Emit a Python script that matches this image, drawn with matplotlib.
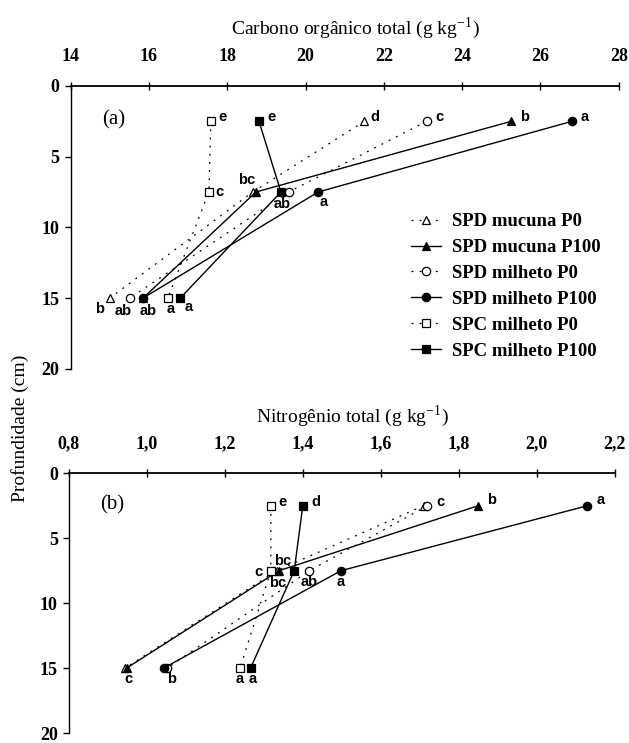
import matplotlib
matplotlib.use('Agg')
import matplotlib.pyplot as plt
from matplotlib.lines import Line2D

plt.rcParams['font.family'] = 'Liberation Serif'
plt.rcParams['mathtext.fontset'] = 'stix'

depth = [2.5, 7.5, 15]
depth_ticks = [0, 5, 10, 15, 20]

series_names = ['SPD mucuna P0', 'SPD mucuna P100', 'SPD milheto P0',
                'SPD milheto P100', 'SPC milheto P0', 'SPC milheto P100']

# (a) carbono organico total, g/kg, at each depth
cot_mucuna_p0 = [21.50, 18.65, 15.00]
cot_mucuna_p100 = [25.25, 18.73, 15.85]
cot_milheto_p0 = [23.09, 19.57, 15.51]
cot_milheto_p100 = [26.80, 20.32, 15.85]
cot_spc_p0 = [17.58, 17.53, 16.48]
cot_spc_p100 = [18.81, 19.37, 16.80]

# (b) nitrogenio total, g/kg
nt_mucuna_p0 = [1.71, 1.333, 0.944]
nt_mucuna_p100 = [1.85, 1.339, 0.948]
nt_milheto_p0 = [1.72, 1.417, 1.052]
nt_milheto_p100 = [2.13, 1.498, 1.043]
nt_spc_p0 = [1.318, 1.318, 1.239]
nt_spc_p100 = [1.400, 1.378, 1.266]

# letters of the mean comparison test ('' = not printed for that point)
cot_letters = [['d', 'bc', 'b'], ['b', '', ''], ['c', 'ab', 'ab'],
               ['a', 'a', 'ab'], ['e', 'c', 'a'], ['e', '', 'a']]
nt_letters = [['', 'bc', 'c'], ['b', 'bc', ''], ['c', 'ab', 'b'],
              ['a', 'a', ''], ['e', 'c', 'a'], ['d', '', 'a']]

cot_x_ticks = [14, 16, 18, 20, 22, 24, 26, 28]
nt_x_ticks = [0.8, 1.0, 1.2, 1.4, 1.6, 1.8, 2.0, 2.2]
nt_x_ticklabels = ['0,8', '1,0', '1,2', '1,4', '1,6', '1,8', '2,0', '2,2']

# styles: marker, filled, solid line
styles = [('^', False, False), ('^', True, True), ('o', False, False),
          ('o', True, True), ('s', False, False), ('s', True, True)]

# letter offsets in pixels (dx, dy down positive) per series / depth
cot_offsets = [[(11, -4), (-6, -12), (-10, 11)],
               [(13, -4), (0, 0), (0, 0)],
               [(13, -4), (-7, 12), (-7, 13)],
               [(13, -4), (6, 10), (5, 13)],
               [(12, -4), (11, 0), (3, 11)],
               [(12, -4), (0, 0), (8, 9)]]
nt_offsets = [[(0, 0), (1, 12), (3, 11)],
              [(13, -6), (4, -10), (0, 0)],
              [(13, -4), (0, 11), (4, 11)],
              [(13, -6), (0, 11), (0, 0)],
              [(12, -4), (-12, 1), (0, 11)],
              [(13, -4), (0, 0), (2, 11)]]

W, H = 629, 743
fig = plt.figure(figsize=(W / 100, H / 100), dpi=100)


def px_axes(left, top, right, bottom):
    return fig.add_axes([left / W, 1 - bottom / H, (right - left) / W, (bottom - top) / H])


def draw_panel(ax, values, letters, offsets, xlim, xticks, xticklabels, title, tag, tagx):
    for i, vals in enumerate(values):
        marker, filled, solid = styles[i]
        ls = '-' if solid else (0, (1.5, 5))
        lw = 1.0 if solid else 0.9
        ms = 6 if marker != 's' else 5.5
        ax.plot(vals, depth, linestyle=ls, color='black', lw=lw, marker=marker,
                markersize=ms, markerfacecolor='black' if filled else 'white',
                markeredgecolor='black', markeredgewidth=0.9, clip_on=False, zorder=3)
        for j, lab in enumerate(letters[i]):
            if lab:
                dx, dy = offsets[i][j]
                ax.annotate(lab, (vals[j], depth[j]), xytext=(dx * 0.72, -dy * 0.72),
                            textcoords='offset points', ha='center', va='center',
                            fontsize=10.5, fontweight='bold', family='Liberation Sans', zorder=4)
    ax.set_xlim(*xlim)
    ax.set_ylim(20, 0)
    ax.xaxis.tick_top()
    ax.set_xticks(xticks)
    ax.set_xticklabels(xticklabels)
    ax.set_yticks(depth_ticks)
    for s in ['right', 'bottom']:
        ax.spines[s].set_visible(False)
    ax.spines['top'].set_linewidth(1.3)
    ax.spines['left'].set_linewidth(1.0)
    ax.tick_params(axis='x', direction='inout', length=6, width=1, pad=12, labelsize=13)
    ax.tick_params(axis='y', direction='out', length=4, width=1, pad=4, labelsize=13)
    for t in ax.get_xticklabels() + ax.get_yticklabels():
        t.set_fontweight('bold')
    ax.set_title(title, fontsize=14, pad=10, x=0.52)
    ax.text(tagx, 2.4, tag, fontsize=15, ha='center', va='center')


ax1 = px_axes(70.7, 86, 618.8, 368.7)
draw_panel(ax1, [cot_mucuna_p0, cot_mucuna_p100, cot_milheto_p0, cot_milheto_p100,
                 cot_spc_p0, cot_spc_p100],
           cot_letters, cot_offsets, (14, 28), cot_x_ticks, [str(v) for v in cot_x_ticks],
           r'Carbono orgânico total (g kg$^{\mathregular{-1}}$)', '(a)', 15.1)

ax2 = px_axes(69, 473.3, 614.5, 733)
draw_panel(ax2, [nt_mucuna_p0, nt_mucuna_p100, nt_milheto_p0, nt_milheto_p100,
                 nt_spc_p0, nt_spc_p100],
           nt_letters, nt_offsets, (0.8, 2.2), nt_x_ticks, nt_x_ticklabels,
           r'Nitrogênio total (g kg$^{\mathregular{-1}}$)', '(b)', 0.912)

handles = []
for i, name in enumerate(series_names):
    marker, filled, solid = styles[i]
    handles.append(Line2D([], [], color='black', linestyle='-' if solid else (0, (1.5, 5)),
                          lw=1.0 if solid else 0.9, marker=marker, markersize=6 if marker != 's' else 5.5,
                          markerfacecolor='black' if filled else 'white',
                          markeredgecolor='black', markeredgewidth=0.9))
ax1.legend(handles, series_names, loc='upper left', bbox_to_anchor=(411 / W, 1 - 213 / H),
           bbox_transform=fig.transFigure, frameon=False, handlelength=1.6,
           handletextpad=0.6, labelspacing=0.47, borderpad=0, borderaxespad=0,
           prop={'family': 'Liberation Serif', 'weight': 'bold', 'size': 13.5})

fig.text(20 / W, 1 - 428 / H, 'Profundidade (cm)', rotation=90, ha='center', va='center',
         fontsize=14)

fig.savefig('out.png', dpi=100)
